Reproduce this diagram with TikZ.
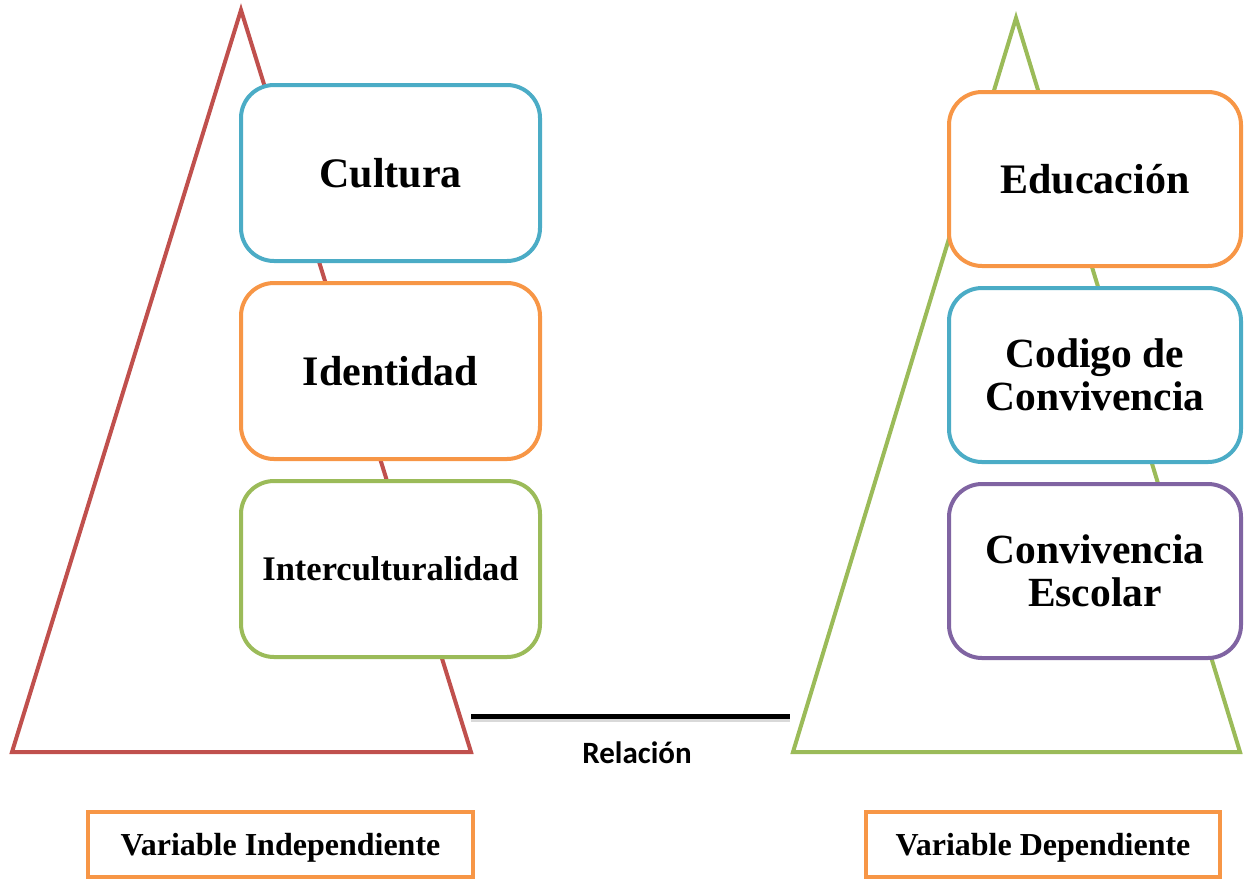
\documentclass[tikz,border=0pt]{standalone}
\usepackage{fontspec}
\setmainfont{Liberation Serif}
\newfontfamily\calibfont{Carlito}
\definecolor{cred}{HTML}{C0504D}
\definecolor{cgreen}{HTML}{9BBB59}
\definecolor{cblue}{HTML}{4BACC6}
\definecolor{corange}{HTML}{F79646}
\definecolor{cpurple}{HTML}{8064A2}
\tikzset{
  tri/.style={line width=4pt, line join=miter},
  rbox/.style={draw=#1, line width=4pt, fill=white, rounded corners=33pt,
    minimum width=299pt, minimum height=176pt, inner sep=0pt, align=center,
    font=\fontsize{42}{44}\selectfont\bfseries},
  varbox/.style={draw=corange, line width=3.5pt, fill=white, inner sep=0pt,
    minimum height=65pt, text height=22pt, text depth=0pt,
    font=\fontsize{32}{34}\selectfont\bfseries},
  rel/.style={line width=5pt, black}
}
\begin{document}
\begin{tikzpicture}[x=1pt,y=-1pt]
\useasboundingbox (0,0) rectangle (1244,879);
% left triangle
\coordinate (la) at (241,10);
\coordinate (lb) at (12,752);
\coordinate (lc) at (471,752);
\draw[tri, cred] (la) -- (lb) -- (lc) -- cycle;
% right triangle
\coordinate (ra) at (1016,18);
\coordinate (rb) at (793,752);
\coordinate (rc) at (1240,752);
\draw[tri, cgreen] (ra) -- (rb) -- (rc) -- cycle;
% left boxes
\node[rbox=cblue] (cult) at (390.5,173) {Cultura};
\node[rbox=corange] (iden) at (390.5,371) {Identidad};
\node[rbox=cgreen, font=\fontsize{34.5}{36}\selectfont\bfseries] (inter) at (390.5,569) {Interculturalidad};
% right boxes
\node[rbox=corange, minimum width=292pt, minimum height=174pt] (edu) at (1095,179) {Educación};
\node[rbox=cblue, minimum width=292pt, minimum height=174pt, font=\fontsize{41.5}{43}\selectfont\bfseries] (cod) at (1095,375) {Codigo de\\Convivencia};
\node[rbox=cpurple, minimum width=292pt, minimum height=174pt, font=\fontsize{41.5}{43}\selectfont\bfseries] (conv) at (1095,571) {Convivencia\\Escolar};
% relation
\coordinate (r1) at (471,716);
\coordinate (r2) at (790,716);
\draw[rel, black!15, line width=5pt] ([yshift=-3pt]r1) -- ([yshift=-3pt]r2);
\draw[rel] (r1) -- (r2);
\node[font=\calibfont\fontsize{31}{33}\selectfont\bfseries] (rell) at (637,753) {Relación};
% variable boxes
\node[varbox, minimum width=385pt] (vi) at (280.5,844.5) {Variable Independiente};
\node[varbox, minimum width=354pt] (vd) at (1043,844.5) {Variable Dependiente};
\end{tikzpicture}
\end{document}
